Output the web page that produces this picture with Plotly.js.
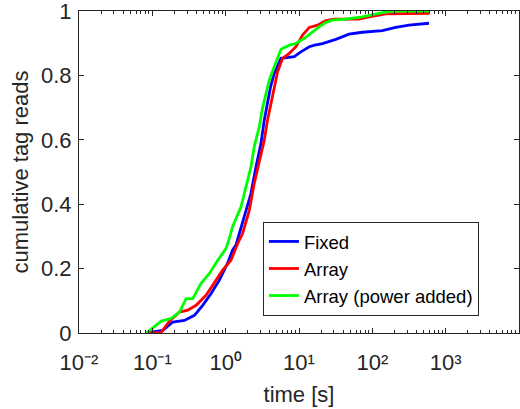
<!DOCTYPE html>
<html>
<head>
<meta charset="utf-8">
<script src="https://cdn.plot.ly/plotly-3.0.1.min.js"></script>
<style>html,body{margin:0;padding:0;background:#fff;}#chart{width:520px;height:409px;}</style>
</head>
<body>
<div id="chart"></div>
<script>
var fixedT = [0.083, 0.139, 0.19, 0.274, 0.375, 0.486, 0.63, 0.82, 1.06, 1.24, 1.38, 1.53, 1.89, 2.21, 2.59, 3.03, 3.36, 3.72, 4.1, 4.6, 5.68, 8.6, 10.6, 13.8, 16.3, 20.9, 31.8, 48, 73, 137, 208, 316, 592];
var fixedY = [0, 0.008, 0.034, 0.039, 0.055, 0.086, 0.122, 0.164, 0.216, 0.257, 0.273, 0.309, 0.381, 0.433, 0.516, 0.589, 0.661, 0.72, 0.765, 0.806, 0.853, 0.858, 0.873, 0.889, 0.894, 0.899, 0.912, 0.928, 0.934, 0.939, 0.949, 0.956, 0.962];

var arrayT = [0.087, 0.13, 0.171, 0.234, 0.304, 0.395, 0.54, 0.70, 0.91, 1.18, 1.46, 1.70, 2.10, 2.45, 2.87, 3.36, 3.72, 4.14, 4.6, 5.1, 5.97, 7.36, 9.07, 11.2, 13.8, 17.9, 23.2, 30.1, 66, 90, 152, 592];
var arrayY = [0, 0, 0.037, 0.065, 0.071, 0.086, 0.117, 0.154, 0.195, 0.226, 0.278, 0.309, 0.381, 0.464, 0.527, 0.599, 0.661, 0.71, 0.754, 0.811, 0.853, 0.868, 0.889, 0.925, 0.949, 0.956, 0.97, 0.975, 0.975, 0.982, 0.991, 0.993];

var powerT = [0.083, 0.132, 0.18, 0.234, 0.289, 0.356, 0.462, 0.60, 0.78, 1.01, 1.12, 1.24, 1.62, 1.89, 2.21, 2.45, 2.87, 3.19, 3.93, 4.6, 5.68, 7.36, 9.07, 11.8, 15.3, 18.8, 23.2, 28.6, 43, 73, 137, 200, 592];
var powerY = [0, 0.037, 0.045, 0.065, 0.107, 0.107, 0.154, 0.185, 0.226, 0.262, 0.293, 0.33, 0.392, 0.454, 0.516, 0.578, 0.64, 0.70, 0.785, 0.827, 0.881, 0.894, 0.899, 0.915, 0.936, 0.951, 0.964, 0.972, 0.975, 0.982, 0.995, 1.0, 1.0];

var xTickVals = [0.01, 0.1, 1, 10, 100, 1000];
var xTickText = ['10\u207B\u00B2', '10\u207B\u00B9', '10\u2070', '10\u00B9', '10\u00B2', '10\u00B3'];
var yTickVals = [0, 0.2, 0.4, 0.6, 0.8, 1];

var seriesNames = ['Fixed', 'Array', 'Array (power added)'];
var seriesColors = ['#0000ff', '#ff0000', '#00ff00'];

var traces = [
  {x: fixedT, y: fixedY},
  {x: arrayT, y: arrayY},
  {x: powerT, y: powerY}
].map(function(d, i){
  return {x: d.x, y: d.y, type: 'scatter', mode: 'lines', name: seriesNames[i],
          line: {color: seriesColors[i], width: 2.8}};
});

var axisFont = {family: 'Liberation Sans, Arial, sans-serif', size: 22, color: '#262626'};

var minorVals = [];
xTickVals.forEach(function(d){
  for (var k = 2; k <= 9; k++) minorVals.push(d * k);
});

var layout = {
  width: 520, height: 409,
  margin: {l: 79, r: 1, t: 11, b: 76},
  paper_bgcolor: '#ffffff', plot_bgcolor: '#ffffff',
  font: axisFont,
  showlegend: true,
  legend: {x: 0.418, y: 0.345, xanchor: 'left', yanchor: 'top',
           bordercolor: '#262626', borderwidth: 1, bgcolor: '#ffffff',
           font: {family: 'Liberation Sans, Arial, sans-serif', size: 18.5, color: '#000000'},
           tracegroupgap: 0, itemwidth: 30},
  xaxis: {
    type: 'log', range: [-2, 4],
    tickvals: xTickVals, ticktext: xTickText,
    ticks: 'inside', ticklen: 5, tickcolor: '#262626', tickwidth: 1,
    minor: {tickvals: minorVals, ticks: 'inside', ticklen: 3, tickcolor: '#262626', showgrid: false},
    showline: true, linecolor: '#262626', linewidth: 1, mirror: 'ticks',
    showgrid: false, zeroline: false,
    ticklabelstandoff: 10,
    tickfont: axisFont,
    title: {text: 'time [s]', font: axisFont, standoff: 12}
  },
  yaxis: {
    range: [0, 1], tickvals: yTickVals,
    ticks: 'inside', ticklen: 5, tickcolor: '#262626', tickwidth: 1,
    showline: true, linecolor: '#262626', linewidth: 1, mirror: 'ticks',
    showgrid: false, zeroline: false,
    ticklabelstandoff: 2, ticklabeloverflow: 'allow',
    tickfont: axisFont,
    title: {text: 'cumulative tag reads', font: axisFont, standoff: 6}
  }
};

Plotly.newPlot('chart', traces, layout, {displayModeBar: false, staticPlot: true});
</script>
</body>
</html>
